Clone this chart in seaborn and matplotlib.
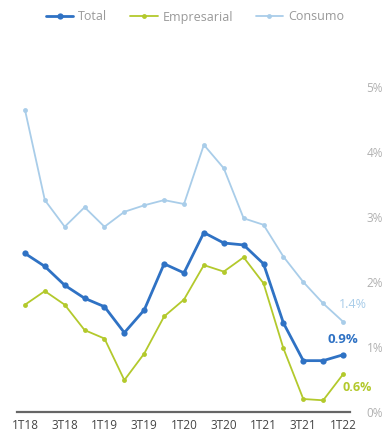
import pandas as pd
import matplotlib
matplotlib.use("Agg")
import matplotlib.pyplot as plt
import seaborn as sns

quarters = ["1T18", "2T18", "3T18", "4T18", "1T19", "2T19", "3T19", "4T19",
            "1T20", "2T20", "3T20", "4T20", "1T21", "2T21", "3T21", "4T21", "1T22"]
total = [2.44, 2.24, 1.95, 1.75, 1.62, 1.22, 1.57, 2.28, 2.14, 2.76, 2.60, 2.57,
         2.28, 1.37, 0.79, 0.79, 0.88]
empresarial = [1.65, 1.86, 1.65, 1.26, 1.13, 0.49, 0.90, 1.47, 1.73, 2.26, 2.16, 2.38,
               1.98, 0.98, 0.20, 0.18, 0.58]
consumo = [4.65, 3.26, 2.85, 3.15, 2.85, 3.08, 3.18, 3.26, 3.20, 4.11, 3.75, 2.98,
           2.88, 2.39, 2.00, 1.67, 1.39]
tick_labels = ["1T18", "3T18", "1T19", "3T19", "1T20", "3T20", "1T21", "3T21", "1T22"]
y_ticks = [0, 1, 2, 3, 4, 5]
end_labels = {"Total": "0.9%", "Empresarial": "0.6%", "Consumo": "1.4%"}

colors = {"Total": "#2f72c4", "Empresarial": "#b3c92c", "Consumo": "#a9cde9"}

df = pd.DataFrame({"q": range(len(quarters)), "Total": total,
                   "Empresarial": empresarial, "Consumo": consumo})

sns.set_style("white")
plt.rcParams["font.family"] = ["Open Sans", "DejaVu Sans"]

fig = plt.figure(figsize=(3.87, 4.42), dpi=100)
ax = fig.add_axes([17 / 387, 30 / 442, 333 / 387, 351 / 442])

# line width, marker size per series
styles = {"Total": (2.0, 4.5), "Empresarial": (1.3, 3.5), "Consumo": (1.3, 3.5)}
for name in ["Consumo", "Empresarial", "Total"]:
    lw, ms = styles[name]
    sns.lineplot(data=df, x="q", y=name, ax=ax, color=colors[name], linewidth=lw,
                 marker="o", markersize=ms, markeredgewidth=0, label=name)

ax.set_xlim(-0.4, 16.35)
ax.set_ylim(0, 5.4)
ax.set_xticks([quarters.index(t) for t in tick_labels])
ax.set_xticklabels(tick_labels, fontsize=8.5, color="#444444")
ax.set_yticks(y_ticks)
ax.set_yticklabels([f"{v}%" for v in y_ticks], fontsize=8.5, color="#b0b0b0")
ax.get_yticklabels()[0].set_color("#555555")
ax.yaxis.tick_right()
ax.tick_params(axis="both", length=0)
ax.tick_params(axis="y", pad=12)
ax.tick_params(axis="x", pad=5)
ax.set_xlabel("")
ax.set_ylabel("")
for s in ["top", "left", "right"]:
    ax.spines[s].set_visible(False)
ax.spines["bottom"].set_color("#666666")
ax.spines["bottom"].set_linewidth(1.6)

last = len(quarters) - 1
ax.annotate(end_labels["Total"], xy=(last, total[-1]), xytext=(0, 15),
            textcoords="offset pixels", ha="center", va="center",
            fontsize=9.5, fontweight="bold", color=colors["Total"])
ax.annotate(end_labels["Consumo"], xy=(last, consumo[-1]), xytext=(10, 17),
            textcoords="offset pixels", ha="center", va="center",
            fontsize=9, color=colors["Consumo"])
ax.annotate(end_labels["Empresarial"], xy=(last, empresarial[-1]), xytext=(14, -13),
            textcoords="offset pixels", ha="center", va="center",
            fontsize=9, fontweight="bold", color=colors["Empresarial"])

handles, labels = ax.get_legend_handles_labels()
order = [labels.index(n) for n in ["Total", "Empresarial", "Consumo"]]
ax.legend_.remove()
leg = fig.legend([handles[i] for i in order], [labels[i] for i in order],
                 loc="center", bbox_to_anchor=(195 / 387, 1 - 17 / 442), ncol=3,
                 frameon=False, fontsize=9, handlelength=2.2, columnspacing=1.8,
                 handletextpad=0.4)
for t in leg.get_texts():
    t.set_color("#999999")

fig.savefig("out.png", dpi=100)
